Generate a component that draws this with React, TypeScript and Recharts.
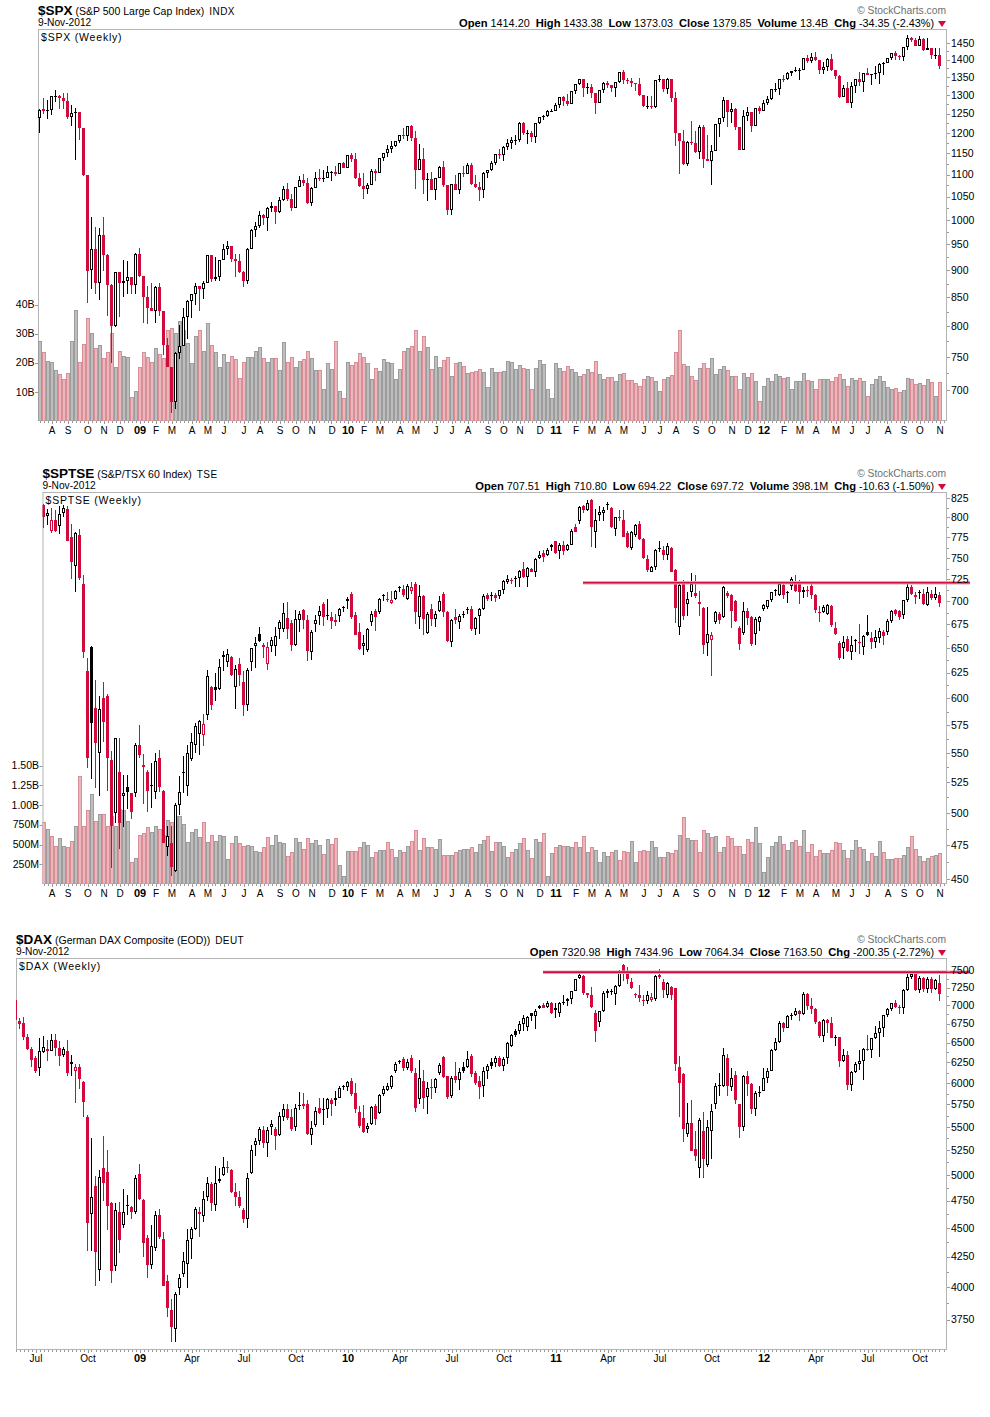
import React from 'react';
import { ComposedChart, Bar, XAxis, YAxis, ReferenceArea, ReferenceLine } from 'recharts';

// ---------------- time axis ----------------
// week index t counts week-ending Fridays from 6-Jun-2008 (t = 0) to 9-Nov-2012 (t = 231)
const WEEK0_UTC = Date.UTC(2008, 5, 6);
const LAST_WEEK = 231;
const X_END = 232.75;
const MONTH_LETTERS = ['J', 'F', 'M', 'A', 'M', 'J', 'J', 'A', 'S', 'O', 'N', 'D'];
const MONTH_NAMES = ['Jan', 'Feb', 'Mar', 'Apr', 'May', 'Jun', 'Jul', 'Aug', 'Sep', 'Oct', 'Nov', 'Dec'];

// ---------------- $SPX weekly (t = 6 .. 231) ----------------
const spxFirst = 6;
const spxOpen = [
  1239, 1261, 1257, 1260, 1295, 1298, 1292, 1283, 1242, 1252,
  1255, 1213, 1099, 900, 940, 877, 968, 930, 873, 800,
  896, 876, 879, 887, 872, 931, 890, 850, 832, 826,
  869, 827, 770, 735, 683, 756, 768, 816, 843, 857,
  870, 866, 877, 929, 883, 887, 919, 940, 946, 921,
  918, 896, 879, 940, 979, 987, 1010, 1005, 1026, 1029,
  1016, 1042, 1068, 1044, 1025, 1071, 1087, 1080, 1036, 1069,
  1093, 1091, 1091, 1106, 1106, 1102, 1126, 1115, 1145, 1136,
  1092, 1074, 1066, 1075, 1109, 1104, 1139, 1150, 1160, 1167,
  1179, 1194, 1192, 1217, 1187, 1111, 1136, 1087, 1089, 1064,
  1092, 1117, 1076, 1022, 1078, 1065, 1103, 1102, 1122, 1079,
  1071, 1065, 1104, 1110, 1126, 1149, 1147, 1166, 1176, 1183,
  1183, 1225, 1199, 1199, 1189, 1225, 1240, 1244, 1256, 1258,
  1272, 1293, 1283, 1276, 1311, 1329, 1343, 1320, 1321, 1304,
  1279, 1313, 1332, 1328, 1320, 1337, 1364, 1340, 1338, 1333,
  1331, 1300, 1271, 1271, 1268, 1340, 1344, 1316, 1345, 1292,
  1199, 1179, 1124, 1177, 1174, 1154, 1216, 1136, 1131, 1155,
  1224, 1238, 1285, 1253, 1263, 1216, 1159, 1244, 1255, 1219,
  1265, 1258, 1278, 1289, 1315, 1316, 1345, 1343, 1361, 1366,
  1370, 1371, 1404, 1397, 1408, 1398, 1370, 1379, 1403, 1370,
  1353, 1295, 1318, 1278, 1325, 1343, 1335, 1362, 1354, 1357,
  1362, 1386, 1391, 1406, 1418, 1411, 1407, 1438, 1466, 1460,
  1441, 1461, 1429, 1433, 1412, 1414.2,
];
const spxHigh = [
  1263, 1291, 1285, 1297, 1314, 1300, 1304, 1304, 1274, 1266,
  1255, 1214, 1099, 1006, 985, 984, 1007, 932, 874, 896,
  896, 919, 918, 887, 934, 943, 890, 871, 877, 870,
  876, 827, 780, 735, 758, 803, 832, 845, 857, 876,
  871, 880, 930, 930, 925, 920, 951, 956, 946, 932,
  931, 898, 943, 981, 996, 1018, 1013, 1027, 1039, 1029,
  1049, 1074, 1080, 1057, 1071, 1096, 1101, 1091, 1071, 1105,
  1113, 1111, 1120, 1107, 1120, 1127, 1130, 1146, 1150, 1150,
  1104, 1104, 1080, 1112, 1112, 1139, 1151, 1170, 1181, 1180,
  1195, 1214, 1217, 1220, 1206, 1173, 1164, 1104, 1105, 1092,
  1120, 1131, 1076, 1078, 1099, 1103, 1120, 1128, 1127, 1100,
  1083, 1105, 1110, 1131, 1149, 1160, 1168, 1184, 1189, 1196,
  1227, 1227, 1207, 1205, 1225, 1241, 1247, 1260, 1263, 1278,
  1294, 1296, 1302, 1311, 1330, 1344, 1343, 1332, 1331, 1304,
  1314, 1337, 1339, 1328, 1337, 1364, 1370, 1346, 1346, 1333,
  1346, 1301, 1298, 1298, 1340, 1356, 1344, 1348, 1345, 1307,
  1199, 1208, 1181, 1230, 1204, 1220, 1220, 1195, 1171, 1224,
  1239, 1293, 1285, 1277, 1264, 1216, 1260, 1267, 1255, 1265,
  1270, 1285, 1296, 1315, 1334, 1345, 1354, 1363, 1368, 1378,
  1374, 1405, 1414, 1420, 1422, 1398, 1392, 1406, 1415, 1371,
  1354, 1328, 1335, 1335, 1343, 1364, 1362, 1375, 1357, 1380,
  1389, 1394, 1406, 1418, 1426, 1413, 1438, 1474, 1467, 1465,
  1471, 1464, 1464, 1434, 1434, 1433.38,
];
const spxLow = [
  1200, 1249, 1235, 1247, 1280, 1261, 1263, 1236, 1217, 1133,
  1182, 1097, 840, 866, 857, 845, 899, 818, 741, 799,
  815, 851, 857, 857, 857, 888, 805, 804, 826, 805,
  818, 754, 734, 667, 672, 747, 768, 779, 814, 836,
  826, 847, 876, 878, 879, 880, 919, 930, 915, 888,
  895, 869, 875, 940, 965, 983, 990, 978, 1017, 991,
  1015, 1040, 1041, 1020, 1025, 1071, 1073, 1033, 1029, 1069,
  1086, 1083, 1091, 1085, 1097, 1102, 1115, 1115, 1129, 1090,
  1071, 1045, 1056, 1075, 1086, 1104, 1131, 1141, 1152, 1165,
  1175, 1186, 1181, 1181, 1066, 1111, 1056, 1040, 1064, 1042,
  1092, 1071, 1011, 1010, 1064, 1056, 1094, 1101, 1076, 1069,
  1040, 1048, 1092, 1107, 1122, 1137, 1132, 1159, 1160, 1171,
  1178, 1194, 1173, 1177, 1174, 1224, 1232, 1242, 1253, 1257,
  1265, 1271, 1270, 1276, 1302, 1328, 1294, 1303, 1291, 1249,
  1279, 1305, 1318, 1309, 1295, 1333, 1330, 1329, 1322, 1312,
  1297, 1268, 1262, 1263, 1266, 1336, 1309, 1303, 1282, 1168,
  1101, 1122, 1121, 1170, 1152, 1137, 1114, 1131, 1075, 1155,
  1191, 1229, 1215, 1226, 1208, 1158, 1159, 1231, 1202, 1219,
  1248, 1258, 1274, 1285, 1307, 1300, 1337, 1340, 1352, 1363,
  1341, 1371, 1391, 1391, 1395, 1357, 1358, 1366, 1367, 1343,
  1291, 1295, 1278, 1266, 1306, 1324, 1309, 1354, 1326, 1345,
  1329, 1354, 1391, 1400, 1399, 1398, 1397, 1429, 1454, 1439,
  1441, 1425, 1429, 1403, 1403, 1373.03,
];
const spxClose = [
  1260, 1257, 1260, 1296, 1298, 1292, 1283, 1242, 1252, 1255,
  1213, 1099, 899, 940, 877, 968, 930, 873, 800, 896,
  876, 879, 887, 872, 931, 890, 850, 832, 826, 869,
  827, 770, 735, 683, 756, 768, 816, 843, 857, 870,
  866, 877, 929, 883, 887, 919, 940, 946, 921, 918,
  896, 879, 940, 979, 987, 1010, 1005, 1026, 1029, 1016,
  1042, 1068, 1044, 1025, 1071, 1087, 1080, 1036, 1069, 1093,
  1091, 1091, 1106, 1106, 1102, 1126, 1115, 1145, 1136, 1092,
  1074, 1066, 1075, 1109, 1104, 1139, 1150, 1160, 1167, 1179,
  1194, 1192, 1217, 1187, 1111, 1136, 1087, 1089, 1064, 1092,
  1117, 1076, 1022, 1078, 1065, 1103, 1102, 1122, 1079, 1071,
  1065, 1104, 1110, 1126, 1149, 1147, 1166, 1176, 1183, 1183,
  1225, 1199, 1199, 1189, 1225, 1240, 1244, 1256, 1258, 1272,
  1293, 1283, 1276, 1311, 1329, 1343, 1320, 1321, 1304, 1279,
  1313, 1332, 1328, 1320, 1337, 1364, 1340, 1338, 1333, 1331,
  1300, 1271, 1271, 1268, 1340, 1344, 1316, 1345, 1292, 1199,
  1179, 1124, 1177, 1174, 1154, 1216, 1136, 1131, 1155, 1224,
  1238, 1285, 1253, 1263, 1216, 1159, 1244, 1255, 1219, 1265,
  1258, 1278, 1289, 1315, 1316, 1345, 1343, 1361, 1366, 1370,
  1371, 1404, 1397, 1408, 1398, 1370, 1379, 1403, 1370, 1353,
  1295, 1318, 1278, 1325, 1343, 1335, 1362, 1354, 1357, 1362,
  1386, 1391, 1406, 1418, 1411, 1407, 1438, 1466, 1460, 1441,
  1461, 1429, 1433, 1412, 1414.2, 1379.85,
];
// weekly volume, billions of shares
const spxVolume = [
  27.5, 23.6, 20.6, 20.2, 17.5, 16.0, 14.4, 16.4, 27.5, 38.1,
  20.2, 26.5, 35.3, 30.1, 25.0, 26.1, 21.5, 23.6, 30.1, 18.4,
  24.2, 22.3, 21.9, 8.4, 10.2, 18.4, 23.6, 22.1, 20.2, 25.0,
  22.9, 21.5, 31.3, 31.8, 30.1, 34.4, 31.3, 26.7, 19.8, 29.2,
  31.3, 24.1, 33.6, 26.1, 23.8, 18.7, 22.9, 20.2, 22.3, 21.3,
  14.7, 20.2, 21.9, 21.9, 24.1, 25.5, 21.5, 20.2, 21.5, 21.5,
  17.5, 27.0, 20.2, 21.9, 18.7, 20.6, 21.3, 24.1, 21.5, 17.5,
  17.5, 10.9, 19.8, 17.8, 27.5, 10.3, 7.9, 20.2, 19.2, 20.2,
  23.3, 22.1, 19.8, 14.3, 18.1, 17.2, 21.2, 20.2, 19.8, 14.3,
  17.8, 24.2, 25.0, 25.9, 31.3, 24.2, 29.3, 25.3, 17.8, 22.5,
  18.4, 21.0, 22.1, 15.5, 19.8, 20.2, 18.9, 16.4, 16.7, 17.2,
  17.8, 16.7, 11.6, 18.1, 17.0, 17.0, 17.2, 20.6, 20.2, 17.8,
  19.2, 18.1, 17.9, 11.0, 18.1, 21.0, 19.5, 11.0, 7.9, 19.8,
  18.1, 17.2, 19.0, 17.8, 16.7, 15.5, 16.0, 17.9, 16.7, 20.6,
  16.2, 14.4, 15.0, 15.2, 13.7, 16.2, 16.4, 14.1, 14.1, 12.9,
  12.0, 14.4, 15.5, 15.0, 13.7, 10.3, 14.4, 15.0, 15.8, 23.6,
  31.3, 19.5, 19.0, 15.6, 14.1, 18.1, 19.8, 18.1, 21.8, 16.0,
  17.8, 19.0, 17.5, 15.5, 15.5, 10.9, 16.4, 15.0, 16.4, 13.7,
  6.9, 12.1, 14.7, 13.7, 16.0, 15.6, 14.7, 15.0, 10.9, 13.9,
  13.7, 16.4, 14.1, 13.7, 11.0, 14.3, 14.3, 14.3, 13.7, 15.0,
  16.0, 14.4, 12.1, 14.7, 14.1, 14.7, 13.9, 8.6, 12.6, 14.3,
  15.5, 13.7, 11.6, 11.0, 11.5, 9.9, 10.7, 14.7, 14.3, 12.6,
  12.9, 12.4, 14.3, 13.3, 8.7, 13.4,
];

// ---------------- $SPTSE weekly (t = 7 .. 231) ----------------
const tsxFirst = 7;
const tsxOpen = [
  816, 802, 783, 797, 789, 806, 811, 775, 741, 778,
  720, 627, 651, 591, 550, 600, 602, 544, 500, 534,
  514, 521, 516, 516, 557, 540, 534, 522, 517, 546,
  518, 474, 477, 456, 506, 534, 522, 545, 557, 567,
  566, 584, 611, 611, 609, 641, 636, 641, 611, 634,
  616, 594, 636, 652, 665, 651, 634, 652, 652, 670,
  670, 682, 676, 653, 680, 690, 679, 646, 675, 684,
  697, 684, 683, 680, 684, 694, 700, 708, 685, 667,
  652, 648, 677, 689, 688, 707, 703, 698, 703, 716,
  714, 703, 712, 719, 683, 706, 666, 691, 681, 689,
  708, 688, 656, 683, 677, 686, 691, 691, 670, 684,
  691, 707, 707, 707, 706, 713, 722, 724, 726, 726,
  737, 728, 737, 734, 750, 756, 753, 763, 770, 758,
  765, 760, 766, 788, 795, 815, 810, 823, 782, 803,
  805, 817, 812, 785, 800, 797, 780, 762, 778, 792,
  773, 749, 734, 739, 762, 759, 754, 762, 736, 672,
  721, 697, 710, 709, 699, 693, 655, 658, 677, 686,
  683, 709, 707, 700, 671, 666, 689, 683, 665, 677,
  691, 694, 701, 713, 707, 718, 709, 717, 723, 720,
  711, 713, 717, 707, 688, 688, 686, 695, 671, 655,
  650, 659, 646, 658, 656, 651, 667, 660, 656, 660,
  667, 667, 678, 690, 689, 685, 701, 716, 707, 710,
  708, 696, 708, 704, 707.51,
];
const tsxHigh = [
  817, 811, 812, 810, 815, 816, 815, 792, 781, 785,
  730, 640, 652, 618, 602, 616, 604, 552, 563, 563,
  531, 531, 516, 559, 575, 549, 535, 541, 550, 553,
  519, 490, 490, 508, 530, 547, 557, 568, 577, 580,
  585, 628, 612, 625, 639, 647, 649, 642, 633, 640,
  627, 630, 650, 661, 672, 655, 656, 661, 672, 680,
  698, 699, 680, 690, 689, 691, 685, 669, 685, 695,
  699, 703, 688, 686, 693, 695, 705, 710, 688, 676,
  664, 671, 689, 691, 704, 708, 711, 712, 713, 717,
  718, 720, 722, 722, 718, 707, 688, 697, 689, 706,
  710, 689, 681, 691, 686, 689, 694, 695, 683, 693,
  708, 709, 710, 709, 713, 724, 730, 727, 729, 736,
  745, 739, 738, 750, 758, 760, 762, 767, 771, 768,
  771, 767, 785, 791, 815, 816, 822, 824, 811, 815,
  813, 820, 813, 800, 809, 810, 783, 783, 791, 795,
  774, 753, 740, 761, 771, 764, 768, 763, 737, 722,
  724, 710, 732, 730, 712, 694, 694, 667, 689, 688,
  717, 712, 708, 701, 673, 699, 693, 684, 683, 684,
  697, 702, 711, 714, 722, 719, 712, 728, 730, 724,
  716, 717, 720, 708, 695, 696, 697, 696, 677, 657,
  662, 662, 662, 659, 675, 663, 685, 667, 669, 671,
  669, 681, 690, 691, 690, 702, 719, 718, 710, 713,
  714, 716, 713, 716, 710.8,
];
const tsxLow = [
  787, 790, 780, 781, 779, 800, 770, 725, 711, 724,
  640, 537, 528, 520, 514, 560, 518, 458, 492, 472,
  489, 503, 495, 513, 546, 507, 501, 504, 511, 517,
  477, 467, 452, 455, 498, 516, 514, 543, 550, 548,
  556, 580, 589, 597, 608, 627, 631, 622, 590, 612,
  583, 588, 627, 630, 656, 640, 628, 646, 642, 659,
  667, 659, 647, 652, 667, 670, 637, 638, 667, 674,
  673, 679, 670, 673, 677, 688, 692, 681, 663, 648,
  643, 646, 673, 668, 686, 700, 699, 697, 702, 711,
  705, 702, 708, 675, 670, 663, 665, 673, 672, 688,
  683, 656, 651, 675, 670, 682, 686, 668, 664, 665,
  690, 700, 700, 699, 703, 708, 719, 720, 716, 716,
  727, 716, 733, 728, 749, 745, 752, 758, 755, 749,
  754, 758, 765, 781, 792, 806, 808, 763, 762, 795,
  795, 810, 787, 777, 795, 776, 762, 760, 776, 772,
  749, 734, 733, 736, 757, 747, 748, 733, 676, 663,
  680, 684, 705, 704, 684, 644, 642, 622, 675, 675,
  682, 704, 671, 677, 648, 664, 674, 652, 653, 668,
  689, 692, 699, 706, 706, 703, 698, 713, 711, 697,
  704, 705, 703, 687, 677, 687, 685, 672, 663, 638,
  639, 646, 638, 646, 644, 643, 662, 649, 650, 655,
  653, 663, 676, 684, 680, 681, 699, 707, 697, 703,
  696, 695, 702, 702, 694.22,
];
const tsxClose = [
  800, 806, 797, 783, 804, 812, 771, 745, 780, 727,
  646, 546, 577, 559, 590, 578, 546, 490, 563, 492,
  516, 517, 501, 557, 548, 538, 518, 523, 543, 521,
  477, 482, 459, 506, 517, 533, 550, 560, 574, 579,
  576, 622, 594, 608, 631, 643, 644, 623, 629, 623,
  594, 628, 650, 655, 657, 653, 651, 658, 662, 677,
  687, 670, 653, 681, 686, 679, 647, 667, 679, 689,
  683, 685, 678, 677, 692, 693, 703, 683, 664, 649,
  655, 670, 686, 683, 703, 706, 702, 701, 712, 715,
  707, 717, 716, 688, 706, 681, 686, 681, 686, 700,
  688, 657, 680, 679, 684, 685, 690, 670, 682, 691,
  706, 703, 706, 704, 713, 723, 725, 723, 725, 735,
  728, 738, 734, 749, 753, 751, 760, 766, 756, 766,
  758, 766, 783, 782, 813, 810, 819, 788, 797, 807,
  810, 816, 788, 800, 799, 776, 763, 782, 790, 773,
  750, 736, 739, 760, 761, 754, 764, 734, 693, 718,
  684, 703, 720, 706, 697, 653, 665, 664, 688, 680,
  716, 706, 689, 678, 654, 689, 682, 654, 681, 683,
  696, 701, 710, 712, 720, 707, 711, 725, 712, 711,
  713, 712, 707, 690, 687, 694, 696, 674, 665, 640,
  656, 647, 653, 657, 655, 662, 664, 656, 661, 668,
  662, 678, 689, 686, 683, 701, 716, 708, 705, 709,
  697, 710, 704, 708.35, 697.72,
];
// weekly volume, millions of shares
const tsxVolume = [
  781, 697, 604, 486, 579, 477, 465, 549, 739, 1372,
  739, 942, 1140, 802, 887, 887, 731, 857, 739, 950,
  942, 802, 274, 325, 625, 646, 718, 655, 731, 697,
  621, 815, 781, 866, 866, 760, 528, 655, 697, 591,
  781, 528, 625, 549, 625, 604, 317, 519, 604, 519,
  486, 494, 486, 422, 410, 465, 591, 494, 625, 528,
  519, 350, 401, 579, 528, 443, 579, 520, 560,
  494, 380, 570, 507, 583, 245, 106, 422, 422, 422,
  473, 528, 498, 338, 410, 431, 435, 528, 443, 338,
  435, 410, 486, 549, 688, 431, 579, 465, 473, 443,
  570, 367, 367, 367, 410, 435, 443, 443, 473, 410,
  507, 562, 612, 422, 528, 536, 486, 346, 410, 443,
  515, 579, 435, 325, 570, 528, 642, 106, 389, 473,
  494, 486, 486, 465, 528, 473, 612, 401, 473, 435,
  283, 410, 359, 410, 435, 308, 422, 410, 541, 274,
  420,
  431, 414, 541, 473, 346, 346, 401, 389, 435, 625,
  853, 579, 562, 557, 401, 688, 646, 591, 612, 410,
  473, 604, 579, 486, 486, 376, 570, 528, 726, 515,
  148, 338, 486, 528, 612, 507, 435, 528, 557, 486,
  688, 410, 507, 359, 427, 393, 393, 435, 528, 515,
  431, 329, 435, 562, 473, 443, 296, 393, 359, 549,
  401, 317, 317, 325, 325, 367, 473, 604, 443, 359,
  287, 329, 359, 372, 398.1,
];

// ---------------- $DAX weekly (t = 0 .. 231) ----------------
const daxFirst = 0;
const daxOpen = [
  7080, 6790, 6755, 6570, 6420, 6310, 6180, 6380, 6420, 6400,
  6540, 6430, 6340, 6400, 6260, 6145, 6190, 6010, 5610, 4630,
  4890, 4140, 5070, 5030, 4730, 4170, 4640, 4530, 4710, 4690,
  4640, 5010, 4760, 4410, 4180, 4320, 4620, 4400, 4050, 3820,
  3680, 3990, 4110, 4190, 4400, 4490, 4630, 4610, 4780, 4910,
  4710, 4960, 5000, 5080, 5050, 4830, 4780, 4660, 4576, 5020,
  5300, 5350, 5470, 5330, 5500, 5480, 5410, 5610, 5700, 5610,
  5500, 5745, 5760, 5760, 5410, 5520, 5710, 5700, 5700, 5800,
  5800, 5830, 5960, 5950, 6020, 5880, 5660, 5600, 5480, 5530,
  5730, 5650, 5870, 5920, 5950, 6150, 6265, 6290, 6180, 6300,
  6120, 5810, 6030, 5840, 5950, 5938, 6120, 6320, 6080, 5850,
  6080, 6040, 6200, 6190, 6330, 6120, 6020, 5960, 6150, 6260,
  6240, 6310, 6210, 6300, 6460, 6650, 6650, 6740, 6700, 6890,
  6850, 6960, 7010, 6980, 7030, 6960, 6900, 7050, 7060, 7090,
  7200, 7390, 7420, 7180, 7140, 6890, 6770, 6920, 7180, 7210,
  7160, 7280, 7580, 7490, 7330, 7160, 7150, 7080, 7060, 7080,
  7090, 7440, 7340, 7150, 7260, 7240, 6200, 6110, 5420, 5540,
  5260, 5070, 5450, 5100, 5450, 5750, 5980, 5960, 6300, 5950,
  6100, 5750, 5500, 6080, 5990, 5700, 5880, 5900, 6058, 6143,
  6404, 6512, 6766, 6693, 6849, 6864, 6921, 6880, 7157, 6996,
  6947, 6775, 6583, 6801, 6762, 6561, 6579, 6271, 6339, 5978,
  6131, 6229, 6263, 6416, 6410, 6558, 6630, 6689, 6865, 6945,
  7040, 6971, 6970, 7214, 7412, 7451, 7216, 7398, 7233, 7380,
  7232, 7320.98,
];
const daxHigh = [
  7095, 6830, 6840, 6620, 6440, 6330, 6560, 6590, 6530, 6610,
  6610, 6520, 6440, 6540, 6345, 6230, 6235, 6020, 5630, 5380,
  4990, 5050, 5400, 5250, 4740, 4730, 4740, 4860, 4800, 4700,
  5000, 5110, 4770, 4440, 4530, 4650, 4670, 4460, 4100, 3910,
  3960, 4110, 4290, 4490, 4510, 4690, 4690, 4840, 4980, 4930,
  5090, 5070, 5180, 5140, 5060, 4920, 4840, 4680, 5020, 5300,
  5380, 5500, 5510, 5500, 5580, 5500, 5670, 5760, 5760, 5700,
  5750, 5890, 5880, 5800, 5560, 5720, 5830, 5830, 5830, 5830,
  5900, 5960, 5980, 6030, 6060, 6000, 5730, 5740, 5540, 5730,
  5750, 5870, 5960, 6000, 6100, 6250, 6280, 6320, 6290, 6340,
  6180, 6280, 6160, 6010, 6050, 6060, 6240, 6330, 6090, 6080,
  6250, 6180, 6260, 6390, 6350, 6140, 6080, 6200, 6230, 6300,
  6330, 6330, 6320, 6510, 6620, 6680, 6780, 6870, 6850, 6900,
  6950, 7000, 7040, 7060, 7050, 7030, 7050, 7150, 7100, 7210,
  7370, 7450, 7440, 7180, 7260, 6930, 6920, 7200, 7230, 7230,
  7290, 7510, 7600, 7550, 7390, 7180, 7290, 7140, 7200, 7170,
  7440, 7530, 7380, 7340, 7280, 7250, 6330, 6120, 5770, 5800,
  5450, 5600, 5660, 5570, 5750, 6000, 6120, 6430, 6350, 6180,
  6150, 5760, 6100, 6150, 6000, 5900, 5960, 6180, 6180, 6420,
  6560, 6780, 6770, 6870, 6900, 6960, 6940, 7190, 7180, 7100,
  6960, 6780, 6820, 6820, 6840, 6600, 6580, 6420, 6400, 6140,
  6260, 6410, 6430, 6600, 6560, 6720, 6780, 6870, 6960, 7040,
  7080, 7000, 7230, 7480, 7480, 7460, 7420, 7410, 7400, 7400,
  7380, 7434.96,
];
const daxLow = [
  6790, 6680, 6540, 6410, 6200, 6125, 6080, 6370, 6270, 6390,
  6330, 6210, 6320, 6080, 6080, 5770, 5930, 5610, 4295, 4300,
  4010, 4050, 4750, 4480, 4030, 4130, 4280, 4500, 4620, 4580,
  4630, 4760, 4250, 4070, 4150, 4300, 4400, 4010, 3770, 3590,
  3589, 3940, 4080, 3990, 4230, 4480, 4420, 4550, 4750, 4650,
  4650, 4920, 4990, 5020, 4820, 4700, 4680, 4540, 4500, 5010,
  5190, 5300, 5270, 5180, 5410, 5250, 5400, 5560, 5580, 5450,
  5450, 5690, 5700, 5410, 5310, 5500, 5640, 5520, 5600, 5620,
  5730, 5820, 5920, 5910, 5850, 5650, 5490, 5430, 5430, 5520,
  5520, 5640, 5850, 5900, 5930, 6120, 6230, 6150, 6160, 6120,
  5660, 5760, 5700, 5640, 5810, 5880, 6100, 6060, 5810, 5820,
  6000, 5920, 6120, 6180, 6070, 5980, 5810, 5840, 6050, 6170,
  6200, 6190, 6140, 6230, 6450, 6580, 6620, 6650, 6650, 6780,
  6680, 6950, 6960, 6970, 6880, 6830, 6840, 7000, 6990, 7020,
  7200, 7380, 7150, 7100, 6970, 6510, 6700, 6910, 7100, 7150,
  7000, 7260, 7350, 7310, 7230, 7100, 7050, 6990, 7020, 7050,
  7060, 7380, 7110, 7100, 7080, 6150, 5610, 5340, 5390, 5240,
  5140, 4965, 4970, 5080, 5160, 5700, 5850, 5950, 5850, 5900,
  5760, 5380, 5460, 5850, 5640, 5620, 5840, 5900, 6000, 6140,
  6390, 6490, 6640, 6690, 6800, 6850, 6780, 6870, 6930, 6880,
  6740, 6560, 6510, 6630, 6560, 6460, 6200, 6250, 5920, 5910,
  6120, 6160, 6040, 6390, 6300, 6550, 6320, 6580, 6840, 6920,
  6960, 6880, 6880, 7200, 7380, 7200, 7170, 7190, 7180, 7170,
  7220, 7064.34,
];
const daxClose = [
  6800, 6750, 6570, 6420, 6275, 6145, 6390, 6440, 6390, 6530,
  6430, 6330, 6420, 6120, 6235, 6190, 6050, 5780, 4544, 4780,
  4292, 4980, 4920, 4700, 4130, 4660, 4390, 4640, 4696, 4640,
  4970, 4770, 4370, 4180, 4340, 4620, 4420, 4010, 3840, 3695,
  3950, 4070, 4210, 4390, 4490, 4670, 4641, 4770, 4920, 4730,
  4920, 4940, 5077, 5069, 4830, 4780, 4700, 4576, 4970, 5250,
  5350, 5480, 5330, 5470, 5530, 5400, 5620, 5700, 5600, 5480,
  5710, 5740, 5735, 5420, 5490, 5680, 5650, 5690, 5810, 5760,
  5830, 5940, 5957, 6010, 5875, 5695, 5510, 5440, 5510, 5720,
  5590, 5860, 5930, 5960, 6080, 6230, 6250, 6180, 6260, 6140,
  5715, 6055, 5830, 5940, 5938, 6049, 6216, 6071, 5834, 6066,
  6040, 6131, 6148, 6290, 6110, 6005, 5952, 6150, 6210, 6210,
  6300, 6210, 6290, 6490, 6600, 6600, 6750, 6830, 6840, 6850,
  6920, 6990, 6970, 7030, 6900, 6940, 7040, 7040, 7090, 7200,
  7370, 7430, 7180, 7150, 6980, 6650, 6920, 7180, 7200, 7200,
  7280, 7500, 7470, 7380, 7250, 7150, 7100, 7060, 7150, 7120,
  7420, 7400, 7220, 7320, 7150, 6236, 5997, 5480, 5538, 5246,
  5190, 5574, 5164, 5502, 5675, 5967, 5971, 6346, 5966, 6057,
  5800, 5493, 6080, 5986, 5702, 5878, 5898, 6058, 6143, 6404,
  6512, 6766, 6693, 6849, 6864, 6921, 6880, 7157, 6996, 6947,
  6775, 6583, 6801, 6762, 6561, 6579, 6271, 6339, 5978, 6131,
  6229, 6263, 6416, 6410, 6558, 6630, 6689, 6865, 6945, 7040,
  6971, 6970, 7214, 7412, 7451, 7216, 7398, 7233, 7380, 7232,
  7363.85, 7163.5,
];

// ---------------- axis tick labels ----------------
const spxPriceTicks = [700, 750, 800, 850, 900, 950, 1000, 1050, 1100, 1150, 1200, 1250, 1300, 1350, 1400, 1450];
const tsxPriceTicks = [450, 475, 500, 525, 550, 575, 600, 625, 650, 675, 700, 725, 750, 775, 800, 825];
const daxPriceTicks = [3750, 4000, 4250, 4500, 4750, 5000, 5250, 5500, 5750, 6000, 6250, 6500, 6750, 7000, 7250, 7500];
const spxVolumeTicks = [10, 20, 30, 40];
const tsxVolumeTicks = [250, 500, 750, 1000, 1250, 1500];

// horizontal resistance lines drawn on the chart (price level, first and last week)
const tsxLevel = { value: 721, from: 141.75, to: 238.5 };
const daxLevel = { value: 7478, from: 131.75, to: 238.5 };

// ---------------- styling ----------------
const FONT = '"Liberation Sans", Arial, Helvetica, sans-serif';
const RED = '#d10a3c';
const BLACK = '#000000';
const FRAME = '#b4b4b4';
const TICK = '#9a9a9a';
const GRAY = '#bebebe';
const GRAY_EDGE = '#9c9c9c';
const PINK = '#e9b7bc';
const PINK_EDGE = '#d98d97';
const LEVEL = '#cf1040';

const CHART_W = 990;
const PLOT_TOP = 29;
const PLOT_H = 392;
const AXIS_H = 22;
const RIGHT_AXIS_W = 43;

type Label = { text: string; bold: boolean };

function weekDate(t: number) {
  return new Date(WEEK0_UTC + t * 7 * 86400000);
}

function monthLabels(from: number, quarterly: boolean) {
  const map = new Map<number, Label>();
  for (let t = Math.ceil(from); t <= LAST_WEEK; t++) {
    const d = weekDate(t);
    const day = d.getUTCDate();
    if (day < 5 || day > 11) continue;
    const m = d.getUTCMonth();
    if (quarterly && m % 3 !== 0) continue;
    if (m === 0) map.set(t, { text: String(d.getUTCFullYear() % 100).padStart(2, '0'), bold: true });
    else map.set(t, { text: quarterly ? MONTH_NAMES[m] : MONTH_LETTERS[m], bold: false });
  }
  return map;
}

function buildRows(first: number, o: number[], h: number[], l: number[], c: number[], v?: number[]) {
  return c.map((close, i) => {
    const open = o[i];
    const prev = i > 0 ? c[i - 1] : open;
    return {
      t: first + i,
      hl: [Math.min(l[i], open, close), Math.max(h[i], open, close)],
      oc: [Math.min(open, close), Math.max(open, close)],
      vol: v ? v[i] : null,
      down: close < prev,
      hollow: close > open,
    };
  });
}

// ---------------- shapes ----------------
function WickShape(props: any) {
  const { x, y, width, height, payload } = props;
  if (!Number.isFinite(x) || !Number.isFinite(y) || !Number.isFinite(height)) return <g />;
  const cx = Math.floor(x + width / 2);
  const top = Math.round(y);
  const bot = Math.max(top + 1, Math.round(y + height));
  return <rect x={cx} y={top} width={1} height={bot - top} fill={payload.down ? RED : BLACK} />;
}

function BodyShape(props: any) {
  const { x, y, width, height, payload } = props;
  if (!Number.isFinite(x) || !Number.isFinite(y) || !Number.isFinite(height)) return <g />;
  const cx = Math.floor(x + width / 2);
  const col = payload.down ? RED : BLACK;
  const top = Math.round(y);
  let bot = Math.round(y + height);
  if (bot - top < 1) bot = top + 1;
  if (payload.hollow && bot - top >= 2) {
    return <rect x={cx - 0.5} y={top + 0.5} width={2} height={bot - top - 1} fill="#ffffff" stroke={col} strokeWidth={1} />;
  }
  return <rect x={cx - 1} y={top} width={3} height={bot - top} fill={col} />;
}

function VolShape(props: any) {
  const { x, y, width, height, payload } = props;
  if (!Number.isFinite(x) || !Number.isFinite(y) || !Number.isFinite(height) || height <= 0) return <g />;
  const cx = Math.floor(x + width / 2);
  const top = Math.round(y);
  const bot = Math.round(y + height);
  return (
    <rect
      x={cx - 0.5}
      y={top + 0.5}
      width={3}
      height={Math.max(0, bot - top - 0.5)}
      fill={payload.down ? PINK : GRAY}
      stroke={payload.down ? PINK_EDGE : GRAY_EDGE}
      strokeWidth={1}
    />
  );
}

function FrameShape(props: any) {
  const { x, y, width, height } = props;
  return <rect x={x + 0.5} y={y + 0.5} width={width - 1} height={height - 1} fill="none" stroke={FRAME} strokeWidth={1} />;
}

function makeXTick(labels: Map<number, Label>, dy: number) {
  return function XTick(props: any) {
    const { x, y, payload } = props;
    const lab = labels.get(payload.value);
    const px = Math.floor(x) + 0.5;
    return (
      <g>
        <line x1={px} x2={px} y1={y} y2={y + (lab ? 3 : 2)} stroke={TICK} strokeWidth={1} />
        {lab ? (
          <text x={x} y={y + dy} textAnchor="middle" fontSize={lab.bold ? 11 : 10} fontWeight={lab.bold ? 'bold' : 'normal'} fill="#000">
            {lab.text}
          </text>
        ) : null}
      </g>
    );
  };
}

function makePriceTick(majors: Set<number>) {
  return function PriceTick(props: any) {
    const { x, y, payload } = props;
    const major = majors.has(payload.value);
    const py = Math.round(y) + 0.5;
    return (
      <g>
        <line x1={x} x2={x + (major ? 3 : 2)} y1={py} y2={py} stroke={TICK} strokeWidth={1} />
        {major ? (
          <text x={x + 4} y={y + 3.7} fontSize={10.5} fill="#000">
            {payload.value}
          </text>
        ) : null}
      </g>
    );
  };
}

function makeVolTick(fmt: (v: number) => string) {
  return function VolTick(props: any) {
    const { x, y, payload } = props;
    const py = Math.round(y) + 0.5;
    return (
      <g>
        <line x1={x - 3} x2={x} y1={py} y2={py} stroke={TICK} strokeWidth={1} />
        <text x={x - 3.5} y={y + 3.7} textAnchor="end" fontSize={10.5} fill="#000">
          {fmt(payload.value)}
        </text>
      </g>
    );
  };
}

function TriangleDown() {
  return (
    <svg width={8} height={6} style={{ marginLeft: 4, verticalAlign: 'middle' }}>
      <polygon points="0,0 8,0 4,6" fill={RED} />
    </svg>
  );
}

interface PanelCfg {
  top: number;
  xStart: number;
  plotLeft: number;
  first: number;
  open: number[];
  high: number[];
  low: number[];
  close: number[];
  vol?: number[];
  volDomain?: [number, number];
  volTicks?: number[];
  volFmt?: (v: number) => string;
  yDomain: [number, number];
  yMajors: number[];
  quarterly: boolean;
  level?: { value: number; from: number; to: number };
  symbol: string;
  name: string;
  exchange: string;
  volumeText?: string;
  xLabelDy: number;
}

function Panel({ cfg }: { cfg: PanelCfg }) {
  const rows = buildRows(cfg.first, cfg.open, cfg.high, cfg.low, cfg.close, cfg.vol);
  const labels = monthLabels(cfg.xStart, cfg.quarterly);
  const weekTicks: number[] = [];
  for (let t = Math.ceil(cfg.xStart); t <= LAST_WEEK + 1; t++) weekTicks.push(t);
  const minors: number[] = [];
  for (let i = 0; i < cfg.yMajors.length - 1; i++) minors.push((cfg.yMajors[i] + cfg.yMajors[i + 1]) / 2);
  const majorsSet = new Set(cfg.yMajors);
  const xDomain: [number, number] = [cfg.xStart, X_END];
  const hasVol = !!cfg.vol;

  const n = cfg.close.length;
  const last = { o: cfg.open[n - 1], h: cfg.high[n - 1], l: cfg.low[n - 1], c: cfg.close[n - 1], p: cfg.close[n - 2] };
  const chg = last.c - last.p;
  const pct = (chg / last.p) * 100;
  const items: [string, string][] = [
    ['Open', last.o.toFixed(2)],
    ['High', last.h.toFixed(2)],
    ['Low', last.l.toFixed(2)],
    ['Close', last.c.toFixed(2)],
  ];
  if (cfg.volumeText) items.push(['Volume', cfg.volumeText]);
  items.push(['Chg', `${chg.toFixed(2)} (${pct.toFixed(2)}%)`]);

  return (
    <>
      <div style={{ position: 'absolute', left: cfg.plotLeft, top: cfg.top + 2, whiteSpace: 'nowrap', lineHeight: '16px' }}>
        <span style={{ fontWeight: 'bold', fontSize: 13.5 }}>{cfg.symbol}</span>
        <span style={{ fontSize: 10.5, marginLeft: 3 }}>({cfg.name})</span>
        <span style={{ fontSize: 10, marginLeft: 5, letterSpacing: 0.4 }}>{cfg.exchange}</span>
      </div>
      <div style={{ position: 'absolute', left: cfg.plotLeft, top: cfg.top + 16, fontSize: 10.2, lineHeight: '14px', whiteSpace: 'nowrap' }}>
        9-Nov-2012
      </div>
      <div style={{ position: 'absolute', right: CHART_W - 946, top: cfg.top + 4, fontSize: 10.3, lineHeight: '14px', color: '#707070', whiteSpace: 'nowrap' }}>
        © StockCharts.com
      </div>
      <div style={{ position: 'absolute', right: CHART_W - 946, top: cfg.top + 16, fontSize: 10.8, lineHeight: '14px', whiteSpace: 'nowrap' }}>
        {items.map(([k, v], i) => (
          <span key={k} style={{ marginLeft: i === 0 ? 0 : 6 }}>
            <span style={{ fontWeight: 'bold', fontSize: 11.2 }}>{k}</span> {v}
          </span>
        ))}
        <TriangleDown />
      </div>
      <div style={{ position: 'absolute', left: cfg.plotLeft + 3, top: cfg.top + PLOT_TOP + 1, fontSize: 10.5, letterSpacing: 0.8, lineHeight: '14px', whiteSpace: 'nowrap' }}>
        {cfg.symbol} (Weekly)
      </div>
      <div style={{ position: 'absolute', left: 0, top: cfg.top }}>
        <ComposedChart
          width={CHART_W}
          height={PLOT_TOP + PLOT_H + AXIS_H}
          data={rows}
          margin={{ top: PLOT_TOP, right: 0, bottom: 0, left: hasVol ? 0 : cfg.plotLeft }}
        >
          <XAxis xAxisId="b" dataKey="t" type="number" domain={xDomain} allowDataOverflow hide height={0} />
          <XAxis xAxisId="v" dataKey="t" type="number" domain={xDomain} allowDataOverflow hide height={0} />
          <XAxis
            xAxisId="w"
            dataKey="t"
            type="number"
            domain={xDomain}
            allowDataOverflow
            ticks={weekTicks}
            interval={0}
            tickSize={0}
            tickMargin={0}
            axisLine={false}
            tickLine={false}
            height={AXIS_H}
            tick={makeXTick(labels, cfg.xLabelDy)}
          />
          <YAxis
            yAxisId="p"
            orientation="right"
            scale="log"
            domain={cfg.yDomain}
            allowDataOverflow
            ticks={[...cfg.yMajors, ...minors]}
            interval={0}
            tickSize={0}
            tickMargin={0}
            axisLine={false}
            tickLine={false}
            width={RIGHT_AXIS_W}
            tick={makePriceTick(majorsSet)}
          />
          {hasVol ? (
            <YAxis
              yAxisId="v"
              orientation="left"
              domain={cfg.volDomain}
              allowDataOverflow
              ticks={cfg.volTicks}
              interval={0}
              tickSize={0}
              tickMargin={0}
              axisLine={false}
              tickLine={false}
              width={cfg.plotLeft}
              tick={makeVolTick(cfg.volFmt!)}
            />
          ) : null}
          {hasVol ? (
            <Bar xAxisId="v" yAxisId="v" dataKey="vol" barSize={3} shape={VolShape} isAnimationActive={false} />
          ) : null}
          <Bar xAxisId="w" yAxisId="p" dataKey="hl" barSize={3} shape={WickShape} isAnimationActive={false} />
          <Bar xAxisId="b" yAxisId="p" dataKey="oc" barSize={3} shape={BodyShape} isAnimationActive={false} />
          {cfg.level ? (
            <ReferenceLine
              xAxisId="w"
              yAxisId="p"
              segment={[
                { x: cfg.level.from, y: cfg.level.value },
                { x: cfg.level.to, y: cfg.level.value },
              ]}
              stroke="#e8a3b1"
              strokeWidth={3.5}
              ifOverflow="visible"
            />
          ) : null}
          {cfg.level ? (
            <ReferenceLine
              xAxisId="w"
              yAxisId="p"
              segment={[
                { x: cfg.level.from, y: cfg.level.value },
                { x: cfg.level.to, y: cfg.level.value },
              ]}
              stroke={LEVEL}
              strokeWidth={1.6}
              ifOverflow="visible"
            />
          ) : null}
          <ReferenceArea
            xAxisId="w"
            yAxisId="p"
            x1={cfg.xStart}
            x2={X_END}
            y1={cfg.yDomain[0]}
            y2={cfg.yDomain[1]}
            ifOverflow="visible"
            shape={FrameShape}
          />
        </ComposedChart>
      </div>
    </>
  );
}

const spxCfg: PanelCfg = {
  top: 0,
  xStart: 5.5,
  plotLeft: 38,
  first: spxFirst,
  open: spxOpen,
  high: spxHigh,
  low: spxLow,
  close: spxClose,
  vol: spxVolume,
  volDomain: [0, 134.7],
  volTicks: spxVolumeTicks,
  volFmt: (v) => `${v}B`,
  yDomain: [655.9, 1492.7],
  yMajors: spxPriceTicks,
  quarterly: false,
  symbol: '$SPX',
  name: 'S&P 500 Large Cap Index',
  exchange: 'INDX',
  volumeText: '13.4B',
  xLabelDy: 12.5,
};

const tsxCfg: PanelCfg = {
  top: 463,
  xStart: 6.625,
  plotLeft: 42.5,
  first: tsxFirst,
  open: tsxOpen,
  high: tsxHigh,
  low: tsxLow,
  close: tsxClose,
  vol: tsxVolume,
  volDomain: [0, 4965],
  volTicks: tsxVolumeTicks,
  volFmt: (v) => (v < 1000 ? `${v}M` : `${(v / 1000).toFixed(2)}B`),
  yDomain: [446.6, 832.9],
  yMajors: tsxPriceTicks,
  quarterly: false,
  level: tsxLevel,
  symbol: '$SPTSE',
  name: 'S&P/TSX 60 Index',
  exchange: 'TSE',
  volumeText: '398.1M',
  xLabelDy: 12.5,
};

const daxCfg: PanelCfg = {
  top: 929,
  xStart: 0,
  plotLeft: 16,
  first: daxFirst,
  open: daxOpen,
  high: daxHigh,
  low: daxLow,
  close: daxClose,
  yDomain: [3531, 7691],
  yMajors: daxPriceTicks,
  quarterly: true,
  level: daxLevel,
  symbol: '$DAX',
  name: 'German DAX Composite (EOD)',
  exchange: 'DEUT',
  xLabelDy: 11.5,
};

export default function App() {
  return (
    <div
      style={{
        position: 'absolute',
        left: 0,
        top: 0,
        width: CHART_W,
        height: 1417,
        background: '#ffffff',
        fontFamily: FONT,
        color: '#000',
        overflow: 'hidden',
      }}
    >
      <Panel cfg={spxCfg} />
      <Panel cfg={tsxCfg} />
      <Panel cfg={daxCfg} />
    </div>
  );
}
